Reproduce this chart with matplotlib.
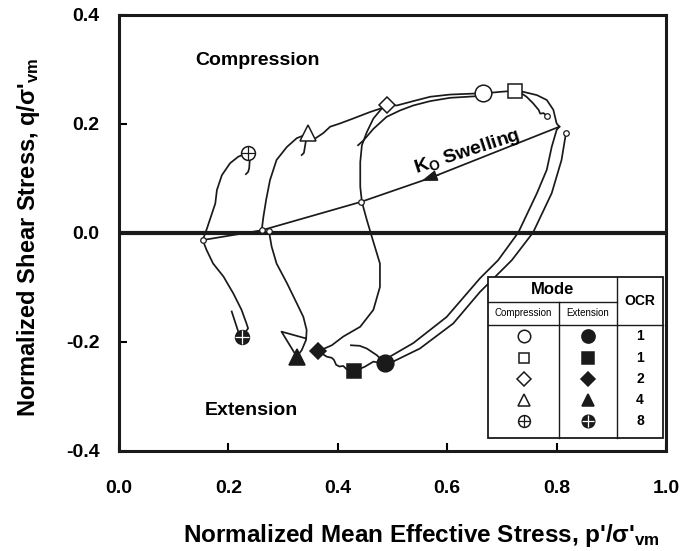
import matplotlib
matplotlib.use('Agg')
import matplotlib.pyplot as plt
from matplotlib.patches import Rectangle

# K0 swelling line (p'/s'vm, q/s'vm)
k0_p = [0.805, 0.569, 0.442, 0.261, 0.153]
k0_q = [0.195, 0.101, 0.057, 0.005, -0.013]

# start points (small open circles)
start_p = [0.782, 0.817, 0.442, 0.261, 0.274, 0.154]
start_q = [0.215, 0.183, 0.057, 0.006, 0.004, -0.013]

# peak / end points: circle, square, diamond, triangle, crossed circle
comp_p = [0.666, 0.724, 0.489, 0.346, 0.236]
comp_q = [0.256, 0.261, 0.235, 0.183, 0.147]
ext_p = [0.486, 0.430, 0.364, 0.325, 0.225]
ext_q = [-0.238, -0.254, -0.217, -0.227, -0.190]
ocr = ['1', '1', '2', '4', '8']

# stress paths
c8_p = [0.153, 0.160, 0.176, 0.179, 0.188, 0.203, 0.218, 0.236, 0.239, 0.238, 0.236, 0.232]
c8_q = [-0.013, 0.006, 0.054, 0.079, 0.106, 0.128, 0.140, 0.147, 0.134, 0.119, 0.112, 0.108]
e8_p = [0.153, 0.160, 0.172, 0.191, 0.209, 0.224, 0.233, 0.236, 0.225, 0.218, 0.206]
e8_q = [-0.013, -0.031, -0.056, -0.080, -0.111, -0.141, -0.166, -0.175, -0.190, -0.181, -0.144]

c4_p = [0.261, 0.264, 0.269, 0.276, 0.288, 0.307, 0.325, 0.340, 0.346, 0.342, 0.338, 0.334]
c4_q = [0.006, 0.030, 0.061, 0.097, 0.134, 0.158, 0.174, 0.180, 0.183, 0.171, 0.147, 0.143]
e4_p = [0.274, 0.279, 0.288, 0.307, 0.325, 0.337, 0.343, 0.342, 0.334, 0.325, 0.297, 0.340]
e4_q = [0.004, -0.025, -0.056, -0.092, -0.129, -0.154, -0.178, -0.196, -0.215, -0.227, -0.181, -0.193]

c2_p = [0.444, 0.441, 0.441, 0.444, 0.453, 0.465, 0.480, 0.489]
c2_q = [0.057, 0.085, 0.130, 0.161, 0.185, 0.210, 0.228, 0.235]
e2_p = [0.444, 0.453, 0.464, 0.477, 0.477, 0.465, 0.441, 0.410, 0.389, 0.364]
e2_q = [0.057, 0.024, -0.013, -0.056, -0.099, -0.141, -0.172, -0.190, -0.206, -0.217]
link2_p = [0.364, 0.380, 0.389, 0.393, 0.397, 0.403, 0.410, 0.416, 0.430]
link2_q = [-0.217, -0.227, -0.229, -0.233, -0.242, -0.245, -0.244, -0.250, -0.254]

env_p = [0.355, 0.373, 0.386, 0.404, 0.428, 0.459, 0.477, 0.489, 0.508, 0.538, 0.569, 0.605, 0.654, 0.666]
env_q = [0.171, 0.183, 0.195, 0.201, 0.210, 0.222, 0.228, 0.235, 0.234, 0.242, 0.250, 0.254, 0.256, 0.256]
post1_p = [0.666, 0.654, 0.605, 0.569, 0.538, 0.514, 0.489, 0.465, 0.447, 0.437]
post1_q = [0.253, 0.251, 0.248, 0.242, 0.234, 0.225, 0.213, 0.191, 0.170, 0.161]

c1a_p = [0.805, 0.800, 0.794, 0.782, 0.764, 0.739, 0.724, 0.697, 0.666]
c1a_q = [0.195, 0.201, 0.226, 0.244, 0.253, 0.259, 0.261, 0.259, 0.256]
c1b_p = [0.782, 0.776, 0.770, 0.767, 0.757, 0.745, 0.736, 0.724]
c1b_q = [0.215, 0.220, 0.219, 0.226, 0.238, 0.250, 0.256, 0.261]

e1a_p = [0.805, 0.800, 0.791, 0.782, 0.764, 0.730, 0.693, 0.660, 0.599, 0.538, 0.495, 0.486]
e1a_q = [0.195, 0.189, 0.158, 0.116, 0.073, 0.001, -0.050, -0.083, -0.154, -0.202, -0.227, -0.238]
e1b_p = [0.817, 0.809, 0.791, 0.757, 0.718, 0.660, 0.611, 0.550, 0.501, 0.486, 0.465, 0.450, 0.430]
e1b_q = [0.183, 0.134, 0.073, 0.001, -0.050, -0.108, -0.166, -0.212, -0.236, -0.240, -0.236, -0.245, -0.254]
hook1_p = [0.424, 0.440, 0.453, 0.471, 0.486]
hook1_q = [-0.206, -0.207, -0.212, -0.224, -0.238]

plt.rcParams['font.family'] = ['Liberation Sans', 'DejaVu Sans']
plt.rcParams['font.weight'] = 'bold'
plt.rcParams['axes.labelweight'] = 'bold'
plt.rcParams['mathtext.fontset'] = 'custom'
plt.rcParams['mathtext.rm'] = 'Liberation Sans'
plt.rcParams['mathtext.bf'] = 'Liberation Sans:bold'
plt.rcParams['mathtext.default'] = 'bf'
plt.rcParams['axes.unicode_minus'] = False

INK = '#1a1a1a'


def draw_marker(ax, x, y, kind, filled, size, **kw):
    shape = {'circle': 'o', 'square': 's', 'diamond': 'D', 'triangle': '^', 'cross': 'o'}[kind]
    face = INK if filled else 'white'
    ax.plot(x, y, marker=shape, ms=size, mfc=face, mec=INK, mew=1.1, ls='none', zorder=6, **kw)
    if kind == 'cross':
        col = 'white' if filled else INK
        ax.plot(x, y, marker='+', ms=size * 0.95, mec=col, mew=0.9, ls='none', zorder=7, **kw)


fig = plt.figure(figsize=(6.98, 5.51), dpi=100)
ax = fig.add_axes([0.1705, 0.1815, 0.7837, 0.7913])

paths = [(k0_p, k0_q), (c8_p, c8_q), (e8_p, e8_q), (c4_p, c4_q), (e4_p, e4_q),
         (c2_p, c2_q), (e2_p, e2_q), (link2_p, link2_q), (env_p, env_q),
         (post1_p, post1_q), (c1a_p, c1a_q), (c1b_p, c1b_q), (e1a_p, e1a_q),
         (e1b_p, e1b_q), (hook1_p, hook1_q)]
for p, q in paths:
    ax.plot(p, q, color=INK, lw=1.25, zorder=3)

ax.axhline(0, color=INK, lw=3, zorder=2)

# arrow on the K0 line
ax.annotate('', xy=(0.553, 0.0955), xytext=(0.585, 0.107),
            arrowprops=dict(arrowstyle='-|>,head_length=0.8,head_width=0.28', color=INK,
                            lw=1.0, mutation_scale=12, shrinkA=0, shrinkB=0), zorder=4)

ax.plot(start_p, start_q, 'o', ms=4, mfc='white', mec=INK, mew=0.9, ls='none', zorder=5)

kinds = ['circle', 'square', 'diamond', 'triangle', 'cross']
sizes = [12, 10, 8.5, 11, 10]
for i, k in enumerate(kinds):
    draw_marker(ax, comp_p[i], comp_q[i], k, False, sizes[i])
    draw_marker(ax, ext_p[i], ext_q[i], k, True, sizes[i])

ax.text(0.139, 0.317, 'Compression', fontsize=14, ha='left', va='center')
ax.text(0.157, -0.325, 'Extension', fontsize=14, ha='left', va='center')
ax.text(0.636, 0.149, r'K$_{O}$ Swelling', fontsize=14, rotation=18,
        ha='center', va='center', rotation_mode='anchor')

# table legend
L, R, c1, c2, T, h1, h2, B = 0.675, 0.9945, 0.804, 0.910, 0.399, 0.342, 0.289, 0.030
tr = ax.transAxes
ax.add_patch(Rectangle((L, B), R - L, T - B, transform=tr, fc='white', ec=INK, lw=1.3, zorder=8))
tab_kw = dict(transform=tr, color=INK, lw=1.0, zorder=9)
ax.plot([L, c2], [h1, h1], **tab_kw)
ax.plot([L, R], [h2, h2], **tab_kw)
ax.plot([c1, c1], [B, h1], **tab_kw)
ax.plot([c2, c2], [B, T], **tab_kw)
ax.text((L + c2) / 2, (T + h1) / 2, 'Mode', transform=tr, fontsize=12, ha='center', va='center', zorder=10)
ax.text((L + c1) / 2, (h1 + h2) / 2, 'Compression', transform=tr, fontsize=7,
        fontweight='normal', ha='center', va='center', zorder=10)
ax.text((c1 + c2) / 2, (h1 + h2) / 2, 'Extension', transform=tr, fontsize=7,
        fontweight='normal', ha='center', va='center', zorder=10)
ax.text((c2 + R) / 2, (T + h2) / 2, 'OCR', transform=tr, fontsize=10, ha='center', va='center', zorder=10)
row_y = [0.263, 0.213, 0.164, 0.116, 0.068]
leg_sizes = [9, 7.5, 7, 8.5, 8.5]
for i, k in enumerate(kinds):
    draw_marker(ax, (L + c1) / 2, row_y[i], k, False, leg_sizes[i], transform=tr)
    draw_marker(ax, (c1 + c2) / 2, row_y[i], k, True, leg_sizes[i] + 0.5, transform=tr)
    ax.text((c2 + R) / 2, row_y[i], ocr[i], transform=tr, fontsize=10, ha='center', va='center', zorder=10)
for line in ax.lines[-20:]:
    line.set_zorder(11)

ax.set_xlim(0, 1.0)
ax.set_ylim(-0.4, 0.4)
ax.set_xticks([0.0, 0.2, 0.4, 0.6, 0.8, 1.0])
ax.set_yticks([-0.4, -0.2, 0.0, 0.2, 0.4])
ax.xaxis.set_major_formatter(matplotlib.ticker.FormatStrFormatter('%.1f'))
ax.yaxis.set_major_formatter(matplotlib.ticker.FormatStrFormatter('%.1f'))
ax.tick_params(direction='in', length=6, width=1.5, labelsize=14)
ax.tick_params(axis='x', pad=21)
ax.tick_params(axis='y', pad=14)
for s in ax.spines.values():
    s.set_linewidth(2.2)
    s.set_color(INK)

ax.set_xlabel("Normalized Mean Effective Stress, p'/\u03c3'$_{vm}$", fontsize=17.5, fontweight='bold')
ax.xaxis.set_label_coords(0.553, -0.162)
ax.set_ylabel("Normalized Shear Stress, q/\u03c3'$_{vm}$", fontsize=17, fontweight='bold')
ax.yaxis.set_label_coords(-0.14, 0.489)

fig.savefig('out.png', dpi=100)
